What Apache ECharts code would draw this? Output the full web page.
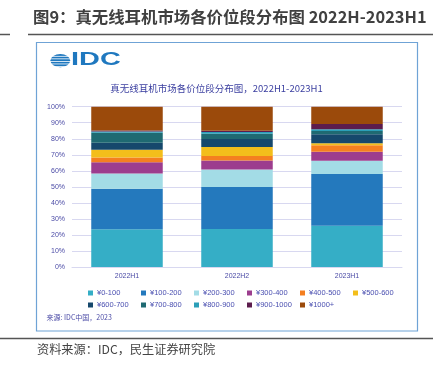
<!DOCTYPE html>
<html>
<head>
<meta charset="utf-8">
<script src="https://cdn.jsdelivr.net/npm/echarts@6/dist/echarts.min.js"></script>
<style>
html,body{margin:0;padding:0;background:#fff;}
#main{width:433px;height:371px;}
</style>
</head>
<body>
<div id="main"></div>
<script>
const categories = ['2022H1', '2022H2', '2023H1'];
const seriesNames = ['¥0-100', '¥100-200', '¥200-300', '¥300-400', '¥400-500', '¥500-600',
  '¥600-700', '¥700-800', '¥800-900', '¥900-1000', '¥1000+'];
const v0_100 = [23.5, 23.7, 25.8];
const v100_200 = [25.3, 26.2, 32.2];
const v200_300 = [9.5, 10.9, 8.3];
const v300_400 = [7.0, 5.6, 5.6];
const v400_500 = [3.0, 2.9, 4.0];
const v500_600 = [4.9, 5.5, 1.3];
const v600_700 = [4.3, 5.0, 5.6];
const v700_800 = [6.3, 3.4, 2.0];
const v800_900 = [0.7, 1.0, 1.1];
const v900_1000 = [0.6, 0.8, 3.3];
const v1000plus = [14.9, 15.0, 10.8];
const yTicks = [0, 10, 20, 30, 40, 50, 60, 70, 80, 90, 100];

const allValues = [v0_100, v100_200, v200_300, v300_400, v400_500, v500_600,
  v600_700, v700_800, v800_900, v900_1000, v1000plus];
const colors = ['#35aec6', '#2479bd', '#a3dce6', '#9c3d8e', '#f47f20', '#f3be1b',
  '#16486c', '#1f6a72', '#2b9fb8', '#5c1c4d', '#9b4a0b'];

const txtColor = '#4b4ba6';
const cjk = '"Noto Sans CJK SC", "Noto Sans", sans-serif';

const chart = echarts.init(document.getElementById('main'), null, {renderer: 'canvas'});

const series = seriesNames.map((n, i) => ({
  name: n,
  type: 'bar',
  stack: 'total',
  barWidth: '65%',
  data: allValues[i],
  itemStyle: {color: colors[i]}
}));

// globe stripes for logo
const stripes = [];
for (let k = 0; k < 5; k++) {
  stripes.push({
    type: 'rect',
    shape: {x: 49, y: 55.9 + k * 2.55, width: 23, height: 0.8},
    style: {fill: '#ffffff'}
  });
}

chart.setOption({
  animation: false,
  textStyle: {fontFamily: cjk},
  color: colors,
  grid: {left: 72, right: 31, top: 106.7, bottom: 104, containLabel: false},
  xAxis: {
    type: 'category',
    data: categories,
    axisLine: {show: true, lineStyle: {color: '#d8d8f0', width: 1}},
    axisTick: {show: false},
    axisLabel: {color: txtColor, fontSize: 7, margin: 6, fontFamily: 'Liberation Sans, sans-serif'}
  },
  yAxis: {
    type: 'value',
    min: yTicks[0],
    max: yTicks[yTicks.length - 1],
    interval: 10,
    axisLine: {show: false},
    axisTick: {show: false},
    axisLabel: {color: txtColor, fontSize: 7, margin: 7, formatter: '{value}%', fontFamily: 'Liberation Sans, sans-serif'},
    splitLine: {lineStyle: {color: '#d8d8f0', width: 1}}
  },
  legend: {
    data: seriesNames,
    left: 83,
    top: 284,
    width: 330,
    itemWidth: 5,
    itemHeight: 5,
    itemGap: 4,
    icon: 'rect',
    textStyle: {color: '#4a4fb0', fontSize: 7.5, width: 40, padding: [0, 0, 0, -1], lineHeight: 8, fontFamily: 'Liberation Sans, sans-serif'}
  },
  series: series,
  graphic: [
    // header
    {type: 'text', left: 33, top: 9, style: {text: '图9：真无线耳机市场各价位段分布图 2022H-2023H1', font: 'bold 16.4px ' + cjk, fill: '#404040'}},
    {type: 'line', shape: {x1: 28, y1: 34.5, x2: 433, y2: 34.5}, style: {stroke: '#555555', lineWidth: 1.5}},
    {type: 'line', shape: {x1: 0, y1: 34.5, x2: 10, y2: 34.5}, style: {stroke: '#555555', lineWidth: 1.5}},
    // box
    {type: 'rect', shape: {x: 36.5, y: 42.5, width: 381, height: 288.5}, style: {fill: 'none', stroke: '#6fa3d6', lineWidth: 1.2}, z: -1},
    // logo globe
    {type: 'group', children: [
      {type: 'circle', shape: {cx: 60.3, cy: 60.6, r: 6.6}, scaleX: 1.5, scaleY: 1, originX: 60.3, originY: 60.6, style: {fill: '#1f78bf'}}
    ].concat(stripes)},
    {type: 'text', x: 71, y: 50.5, scaleX: 1.52, scaleY: 1, style: {text: 'IDC', font: 'bold 19px "Liberation Sans", Arial, sans-serif', fill: '#1f78bf'}},
    // chart title
    {type: 'text', left: 'center', top: 84, style: {text: '真无线耳机市场各价位段分布图，2022H1-2023H1', font: '9.5px ' + cjk, fill: '#3b3fa0'}},
    // source inside
    {type: 'text', left: 46.5, top: 314, style: {text: '来源: IDC中国，2023', font: '7px ' + cjk, fill: txtColor}},
    // bottom
    {type: 'line', shape: {x1: 0, y1: 338.5, x2: 433, y2: 338.5}, style: {stroke: '#555555', lineWidth: 1.5}},
    {type: 'text', left: 37, top: 343, style: {text: '资料来源：IDC，民生证券研究院', font: '12.2px ' + cjk, fill: '#444444'}}
  ]
});
</script>
</body>
</html>
